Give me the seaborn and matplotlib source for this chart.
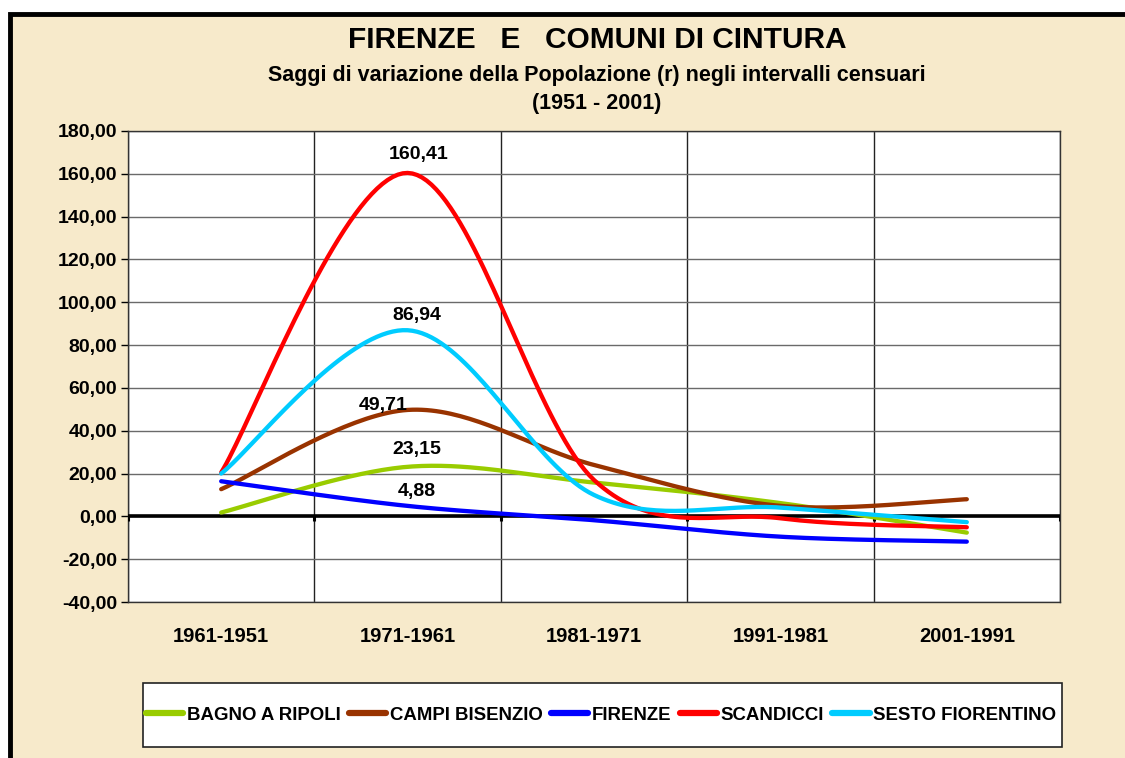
import numpy as np
import pandas as pd
import matplotlib
matplotlib.use("Agg")
import matplotlib.pyplot as plt
import seaborn as sns
from matplotlib.patches import Rectangle
from matplotlib.lines import Line2D
from matplotlib.ticker import FuncFormatter, FixedLocator

# ---------------- data ----------------
periods = ["1961-1951", "1971-1961", "1981-1971", "1991-1981", "2001-1991"]
comuni = ["BAGNO A RIPOLI", "CAMPI BISENZIO", "FIRENZE", "SCANDICCI", "SESTO FIORENTINO"]
bagno_a_ripoli = [1.8, 23.15, 15.8, 6.2, -7.6]
campi_bisenzio = [12.7, 49.71, 24.0, 4.9, 8.0]
firenze = [16.4, 4.88, -1.8, -9.5, -11.8]
scandicci = [20.5, 160.41, 17.0, -0.9, -5.1]
sesto_fiorentino = [20.0, 86.94, 10.0, 4.1, -2.7]
series = [bagno_a_ripoli, campi_bisenzio, firenze, scandicci, sesto_fiorentino]
colors = ["#99CC00", "#993300", "#0000FF", "#FF0000", "#00CCFF"]
yticks = [-40, -20, 0, 20, 40, 60, 80, 100, 120, 140, 160, 180]

# ------------- smoothing (Excel-like Bezier through points) -------------
def smooth(vals, n=40):
    p = np.column_stack([np.arange(len(vals), dtype=float), np.asarray(vals, float)])
    out = []
    for i in range(len(p) - 1):
        p0 = p[max(i - 1, 0)]
        p1 = p[i]
        p2 = p[i + 1]
        p3 = p[min(i + 2, len(p) - 1)]
        c1 = p1 + (p2 - p0) / 6.0
        c2 = p2 - (p3 - p1) / 6.0
        t = np.linspace(0, 1, n)[:, None]
        seg = ((1 - t) ** 3) * p1 + 3 * ((1 - t) ** 2) * t * c1 + 3 * (1 - t) * t ** 2 * c2 + t ** 3 * p2
        if i > 0:
            seg = seg[1:]
        out.append(seg)
    return np.vstack(out)

frames = []
for name, vals in zip(comuni, series):
    s = smooth(vals)
    frames.append(pd.DataFrame({"x": s[:, 0], "y": s[:, 1], "comune": name}))
df = pd.concat(frames, ignore_index=True)

# ---------------- style ----------------
sns.set_theme(style="white")
plt.rcParams["font.family"] = ["Liberation Sans", "DejaVu Sans"]
plt.rcParams["font.weight"] = "bold"
plt.rcParams["text.color"] = "black"
plt.rcParams["xtick.color"] = "black"
plt.rcParams["ytick.color"] = "black"

W, H = 1125, 758
fig = plt.figure(figsize=(W / 100, H / 100), dpi=100, facecolor="white")

# parchment frame with black border (top and left visible)
bg = Rectangle((10 / W, -0.05), 1.2, 1 - 14 / H + 0.05, transform=fig.transFigure,
               facecolor="#F7EACB", edgecolor="black", linewidth=3.5, zorder=-10)
fig.patches.append(bg)

ax = fig.add_axes([128 / W, 1 - 602 / H, (1060 - 128) / W, (602 - 131) / H])
ax.set_zorder(2)
ax.set_facecolor("white")

sns.lineplot(data=df, x="x", y="y", hue="comune", palette=dict(zip(comuni, colors)),
             sort=False, estimator=None, linewidth=3.1, legend=False, ax=ax, zorder=5)

ax.set_xlim(-0.5, len(periods) - 0.5)
ax.set_ylim(-40, 180)
ax.set_xticks(range(len(periods)))
ax.set_xticklabels(periods, fontsize=14.5, fontweight="bold", color="black")
ax.xaxis.set_minor_locator(FixedLocator(np.arange(-0.5, len(periods), 1.0)))
ax.set_yticks(yticks)
ax.yaxis.set_major_formatter(FuncFormatter(lambda v, p: f"{v:.2f}".replace(".", ",")))
for lab in ax.get_yticklabels():
    lab.set_fontsize(14)
    lab.set_fontweight("bold")
    lab.set_color("black")
ax.tick_params(axis="y", which="major", length=5, width=1, color="black", direction="out", pad=3, left=True)
ax.tick_params(axis="x", which="both", length=0, pad=18)
ax.set_xlabel("")
ax.set_ylabel("")

ax.grid(False)
ax.grid(True, axis="y", which="major", color="#6a6a6a", linewidth=1.0, zorder=1)
ax.grid(True, axis="x", which="minor", color="#222222", linewidth=1.0, zorder=1)
for sp in ax.spines.values():
    sp.set_color("#333333")
    sp.set_linewidth(1.0)

# zero axis line with tick marks at category boundaries
ax.axhline(0, color="black", linewidth=2.6, zorder=4)
ax.vlines(np.arange(-0.5, len(periods), 1.0), -2.2, 0, color="black", linewidth=2.2, zorder=4)

# data labels on 1971-1961
label_offsets = {"BAGNO A RIPOLI": (0.05, 6), "CAMPI BISENZIO": (-0.13, -3), "FIRENZE": (0.05, 4),
                 "SCANDICCI": (0.06, 7), "SESTO FIORENTINO": (0.05, 4.5)}
for name, vals in zip(comuni, series):
    dx, dy = label_offsets[name]
    ax.annotate(f"{vals[1]:.2f}".replace(".", ","), xy=(1 + dx, vals[1]), xytext=(0, dy),
                textcoords="offset points", ha="center", va="bottom",
                fontsize=14, fontweight="bold", color="black", zorder=6)

# titles
fig.text(597 / W, 1 - 40 / H, "FIRENZE   E   COMUNI DI CINTURA", ha="center", va="center",
         fontsize=21.5, fontweight="bold", color="black")
fig.text(597 / W, 1 - 75 / H, "Saggi di variazione della Popolazione (r) negli intervalli censuari",
         ha="center", va="center", fontsize=15.5, fontweight="bold", color="black")
fig.text(597 / W, 1 - 103 / H, "(1951 - 2001)", ha="center", va="center", fontsize=15.5,
         fontweight="bold", color="black")

# legend box
box = Rectangle((143 / W, 1 - 747 / H), (1062 - 143) / W, (747 - 683) / H,
                transform=fig.transFigure, facecolor="white", edgecolor="#222222",
                linewidth=1.2, zorder=1)
fig.patches.append(box)
handles = [Line2D([0], [0], color=c, linewidth=4.5, solid_capstyle="round") for c in colors]
leg = fig.legend(handles, comuni, loc="center", bbox_to_anchor=(601 / W, 1 - 715 / H), ncol=5,
                 frameon=False, handlelength=2.0, handletextpad=0.2, columnspacing=0.45,
                 prop={"size": 13.4, "weight": "bold"})
for t in leg.get_texts():
    t.set_color("black")
leg.set_zorder(3)

fig.savefig("out.png", dpi=100, facecolor="white")
